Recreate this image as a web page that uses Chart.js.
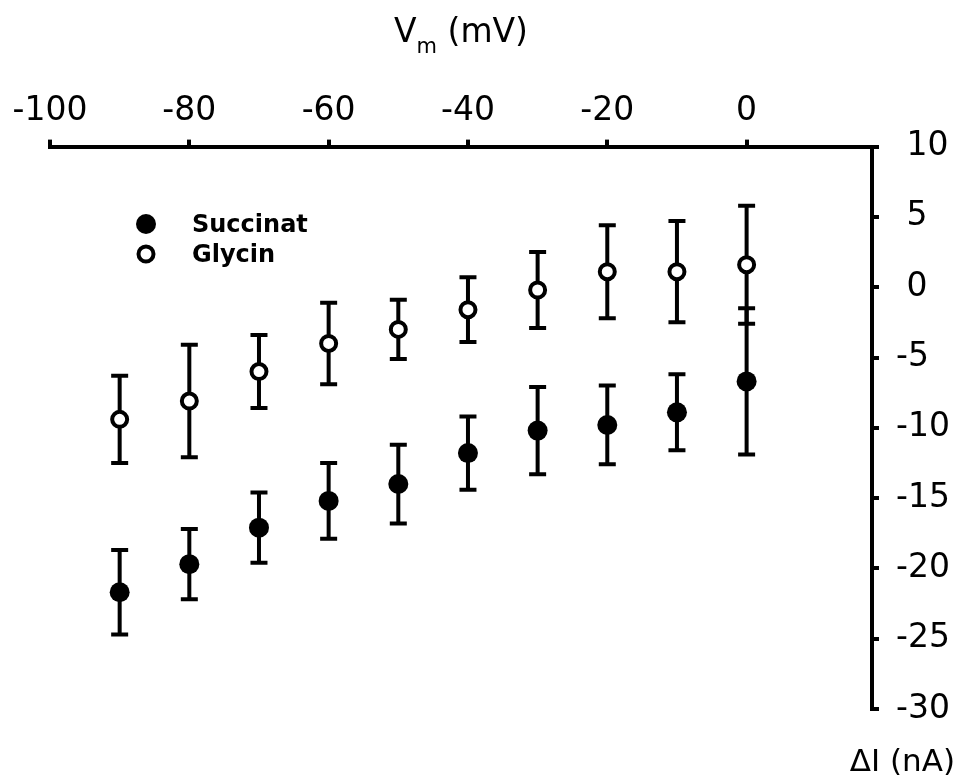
<!DOCTYPE html>
<html>
<head>
<meta charset="utf-8">
<script src="https://cdn.jsdelivr.net/npm/chart.js@4.4.1/dist/chart.umd.min.js"></script>
<style>
  body { margin: 0; background: #fff; }
  #wrap { width: 959px; height: 783px; }
</style>
</head>
<body>
<div id="wrap"><canvas id="myChart" width="959" height="783"></canvas></div>
<script>
// values
let volts = [-90, -80, -70, -60, -50, -40, -30, -20, -10, 0];
let succinat = [-21.7, -19.7, -17.1, -15.2, -14.0, -11.8, -10.2, -9.8, -8.9, -6.7];
let succinatErr = [3.0, 2.5, 2.5, 2.7, 2.8, 2.6, 3.1, 2.8, 2.7, 5.2];
let glycin = [-9.4, -8.1, -6.0, -4.0, -3.0, -1.6, -0.2, 1.1, 1.1, 1.6];
let glycinErr = [3.1, 4.0, 2.6, 2.9, 2.1, 2.3, 2.7, 3.3, 3.6, 4.2];
let seriesNames = ["Succinat", "Glycin"];

let font = "DejaVu Sans";

function toPoints(ys) {
  return volts.map((v, i) => ({ x: v, y: ys[i] }));
}

// error bars, drawn below the markers
let errorBars = {
  id: "errorBars",
  beforeDatasetsDraw(chart) {
    let ctx = chart.ctx;
    let yScale = chart.scales.y;
    let errs = [succinatErr, glycinErr];
    ctx.save();
    ctx.strokeStyle = "#000";
    ctx.lineWidth = 4;
    chart.data.datasets.forEach((ds, d) => {
      let meta = chart.getDatasetMeta(d);
      meta.data.forEach((pt, i) => {
        let val = ds.data[i].y;
        let top = yScale.getPixelForValue(val + errs[d][i]);
        let bottom = yScale.getPixelForValue(val - errs[d][i]);
        ctx.beginPath();
        ctx.moveTo(pt.x, top);
        ctx.lineTo(pt.x, bottom);
        ctx.moveTo(pt.x - 8.5, top);
        ctx.lineTo(pt.x + 8.5, top);
        ctx.moveTo(pt.x - 8.5, bottom);
        ctx.lineTo(pt.x + 8.5, bottom);
        ctx.stroke();
      });
    });
    ctx.restore();
  }
};

// axis titles and the legend
let labels = {
  id: "labels",
  afterDraw(chart) {
    let ctx = chart.ctx;
    let area = chart.chartArea;
    ctx.save();
    ctx.fillStyle = "#000";
    ctx.textBaseline = "alphabetic";

    // V_m (mV)
    ctx.font = "33px '" + font + "'";
    let wV = ctx.measureText("V").width;
    let wRest = ctx.measureText(" (mV)").width;
    ctx.font = "21px '" + font + "'";
    let wSub = ctx.measureText("m").width;
    let x0 = (area.left + area.right) / 2 - (wV + wSub + wRest) / 2;
    ctx.textAlign = "left";
    ctx.font = "33px '" + font + "'";
    ctx.fillText("V", x0, 42);
    ctx.font = "21px '" + font + "'";
    ctx.fillText("m", x0 + wV, 53);
    ctx.font = "33px '" + font + "'";
    ctx.fillText(" (mV)", x0 + wV + wSub, 42);

    // ΔI (nA)
    ctx.font = "31px '" + font + "'";
    ctx.textAlign = "right";
    ctx.fillText("\u0394I (nA)", chart.width - 4, 771);

    // legend
    let lx = area.left + 96;
    let ly = [224, 254];
    ctx.textAlign = "left";
    ctx.font = "bold 24px '" + font + "'";
    chart.data.datasets.forEach((ds, d) => {
      ctx.beginPath();
      ctx.arc(lx, ly[d], ds.pointRadius, 0, Math.PI * 2);
      ctx.fillStyle = ds.backgroundColor;
      ctx.fill();
      if (ds.borderWidth > 0) {
        ctx.lineWidth = ds.borderWidth;
        ctx.strokeStyle = ds.borderColor;
        ctx.stroke();
      }
      ctx.fillStyle = "#000";
      ctx.fillText(seriesNames[d], lx + 46, ly[d] + 8);
    });
    ctx.restore();
  }
};

let ctx = document.getElementById("myChart").getContext("2d");
let chart = new Chart(ctx, {
  type: "scatter",
  data: {
    datasets: [
      {
        label: seriesNames[0],
        data: toPoints(succinat),
        backgroundColor: "#000",
        borderColor: "#000",
        borderWidth: 0,
        pointRadius: 10,
        pointHoverRadius: 10
      },
      {
        label: seriesNames[1],
        data: toPoints(glycin),
        backgroundColor: "#fff",
        borderColor: "#000",
        borderWidth: 4,
        pointRadius: 7.5,
        pointHoverRadius: 7.5
      }
    ]
  },
  options: {
    responsive: false,
    animation: false,
    layout: { padding: { left: 50, right: 0, top: 84, bottom: 74 } },
    plugins: {
      legend: { display: false },
      tooltip: { enabled: false }
    },
    scales: {
      x: {
        type: "linear",
        position: "top",
        min: -100,
        max: 18,
        border: { display: true, color: "#000", width: 4 },
        grid: { display: true, drawOnChartArea: false, drawTicks: true, tickLength: 7, color: "#000", lineWidth: 4 },
        ticks: {
          stepSize: 20,
          includeBounds: false,
          color: "#000",
          padding: 8,
          font: { family: font, size: 33 }
        }
      },
      y: {
        type: "linear",
        position: "right",
        min: -30,
        max: 10,
        afterFit: scale => { scale.width = 87; },
        border: { display: true, color: "#000", width: 4 },
        grid: { display: true, drawOnChartArea: false, drawTicks: true, tickLength: 7, color: "#000", lineWidth: 4 },
        ticks: {
          stepSize: 5,
          color: "#000",
          padding: 17,
          font: { family: font, size: 33 },
          callback: v => (v >= 0 ? " " + v : "" + v)
        }
      }
    }
  },
  plugins: [errorBars, labels]
});
</script>
</body>
</html>
